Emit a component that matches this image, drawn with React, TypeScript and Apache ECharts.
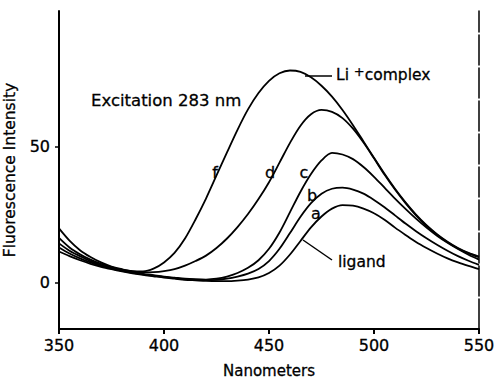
import React, { useEffect, useRef } from "react";
import * as echarts from "echarts";

const wavelengths = [
  350, 355, 360, 365, 370, 375, 380, 385, 390, 395, 400, 405, 410, 415, 420,
  425, 430, 435, 440, 445, 450, 455, 460, 465, 470, 475, 480, 485, 490, 495,
  500, 505, 510, 515, 520, 525, 530, 535, 540, 545, 550,
];

// f : Li+ complex
const curveF = [
  20, 15.5, 12, 9.5, 7.5, 6, 5, 4.3, 4.2, 5.2, 7.5, 11, 16.3, 23.3, 31,
  39.5, 48, 56.3, 63.8, 69.8, 74.3, 77.1, 78.1, 77.6, 75.6, 72.5, 68.5, 63.6, 58, 52,
  46, 40.1, 34.6, 29.6, 25.1, 21.2, 17.9, 15.1, 12.8, 11, 9.6,
];
const curveD = [
  16.5, 13, 10.5, 8.5, 7, 5.8, 4.8, 4.2, 3.8, 3.9, 4.3, 5, 6.3, 8, 10,
  12.8, 16.3, 20.5, 25.3, 30.8, 37, 44.2, 51.5, 57.8, 62, 63.6, 62.9, 60.6, 56.7, 51.6,
  45.8, 39.8, 34.3, 29.3, 24.8, 20.9, 17.7, 14.9, 12.6, 10.8, 9.4,
];
const curveC = [
  14.5, 11.8, 9.8, 8, 6.6, 5.5, 4.6, 3.9, 3.3, 2.8, 2.3, 1.9, 1.5, 1.3, 1.2,
  1.5, 2.3, 3.6, 5.5, 8.3, 12.5, 18.5, 26, 33.5, 40, 45, 47.8, 47.2, 45.5, 42.6,
  39, 35, 31, 27.2, 23.6, 20.3, 17.3, 14.7, 12.4, 10.3, 8.5,
];
const curveB = [
  13, 10.8, 9, 7.5, 6.2, 5.2, 4.4, 3.7, 3.1, 2.6, 2.1, 1.7, 1.3, 1.1, 1.0,
  1.1, 1.5, 2.3, 3.4, 5.1, 8, 12.5, 18.3, 24.3, 29.3, 32.8, 34.6, 35, 34.3, 32.8,
  30.5, 27.8, 24.8, 21.8, 19, 16.4, 14, 11.8, 9.8, 8.1, 6.6,
];
// a : ligand
const curveA = [
  11.5, 9.8, 8.3, 7, 5.9, 5, 4.2, 3.5, 2.9, 2.4, 1.9, 1.5, 1.1, 0.9, 0.7,
  0.6, 0.6, 0.8, 1.2, 2, 3.6, 6.3, 10.4, 15.4, 20.4, 24.4, 27.3, 28.6, 28.4, 27.3,
  25.6, 23.2, 20.3, 17.6, 15, 12.8, 10.8, 9, 7.5, 6.2, 5,
];

const curves = [
  { name: "f", values: curveF },
  { name: "d", values: curveD },
  { name: "c", values: curveC },
  { name: "b", values: curveB },
  { name: "a", values: curveA },
];

const xTicks = [350, 400, 450, 500, 550];
const yTicks = [0, 50];

const FONT = "DejaVu Sans";

export default function App() {
  const ref = useRef<HTMLDivElement>(null);

  useEffect(() => {
    if (!ref.current) return;
    const chart = echarts.init(ref.current, null, { renderer: "svg" });

    const txt = (text: string, x: number, y: number, size = 16, align = "left") => ({
      type: "text",
      x,
      y,
      style: {
        text,
        fontFamily: FONT,
        fontSize: size,
        fill: "#000",
        stroke: "#000",
        lineWidth: 0.3,
        textAlign: align,
        textVerticalAlign: "middle",
      },
    });

    const labelBase = {
      fontFamily: FONT,
      fontSize: 16,
      color: "#000",
      textBorderColor: "#000",
      textBorderWidth: 0.3,
    };

    chart.setOption({
      animation: false,
      backgroundColor: "#fff",
      grid: {
        left: 59,
        right: 17,
        top: 11,
        bottom: 53,
        containLabel: false,
        outerBoundsMode: "none",
      },
      xAxis: {
        type: "value",
        min: 350,
        max: 550,
        interval: 50,
        name: "Nanometers",
        nameLocation: "middle",
        nameGap: 34,
        nameTextStyle: { ...labelBase, fontSize: 15 },
        axisLine: { show: true, onZero: false, lineStyle: { color: "#000", width: 2 } },
        axisTick: { show: true, length: 5, lineStyle: { color: "#000", width: 2 } },
        axisLabel: { ...labelBase, margin: 8, customValues: xTicks },
        splitLine: { show: false },
      },
      yAxis: [
        {
          type: "value",
          min: -17,
          max: 100,
          name: "Fluorescence Intensity",
          nameLocation: "middle",
          nameGap: 36,
          nameTextStyle: { ...labelBase, fontSize: 15.5 },
          axisLine: { show: true, onZero: false, lineStyle: { color: "#000", width: 2 } },
          axisTick: {
            show: true,
            length: 4,
            customValues: yTicks,
            lineStyle: { color: "#000", width: 1.5 },
          },
          axisLabel: { ...labelBase, margin: 9, customValues: yTicks },
          splitLine: { show: false },
        },
        {
          type: "value",
          min: -17,
          max: 100,
          position: "right",
          axisLine: {
            show: true,
            onZero: false,
            lineStyle: { color: "#000", width: 1.5, type: [30, 3] },
          },
          axisTick: { show: false },
          axisLabel: { show: false },
          splitLine: { show: false },
        },
      ],
      series: curves.map((c) => ({
        type: "line",
        name: c.name,
        data: wavelengths.map((w, i) => [w, c.values[i]]),
        smooth: 0.3,
        symbol: "none",
        lineStyle: { color: "#000", width: 1.8 },
        silent: true,
      })),
      graphic: [
        txt("Excitation 283 nm", 91, 100, 16.5),
        {
          type: "line",
          shape: { x1: 305, y1: 76, x2: 332, y2: 76 },
          style: { stroke: "#000", lineWidth: 1.5 },
        },
        {
          type: "text",
          x: 336,
          y: 75,
          style: {
            text: "{a|Li }{s|+}{a|complex}",
            fontFamily: FONT,
            fill: "#000",
            textVerticalAlign: "middle",
            rich: {
              a: { fontFamily: FONT, fontSize: 15.5, fill: "#000", stroke: "#000", lineWidth: 0.3 },
              s: {
                fontFamily: FONT,
                fontSize: 13,
                fill: "#000",
                stroke: "#000",
                lineWidth: 0.3,
                verticalAlign: "top",
                padding: [0, 0, 8, 0],
              },
            },
          },
        },
        {
          type: "line",
          shape: { x1: 303, y1: 240, x2: 332, y2: 260 },
          style: { stroke: "#000", lineWidth: 1.5 },
        },
        txt("ligand", 338, 262, 15.5),
        txt("f", 215, 172, 16, "center"),
        txt("d", 270, 172, 16, "center"),
        txt("c", 304, 172, 16, "center"),
        txt("b", 312, 195, 16, "center"),
        txt("a", 316, 213, 16, "center"),
      ],
    });

    return () => chart.dispose();
  }, []);

  return (
    <div
      ref={ref}
      style={{ position: "fixed", left: 0, top: 0, width: 496, height: 382, background: "#fff" }}
    />
  );
}
